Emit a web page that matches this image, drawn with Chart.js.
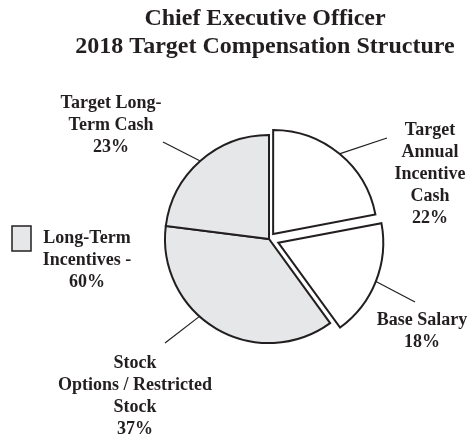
<!DOCTYPE html>
<html>
<head>
<meta charset="utf-8">
<script src="https://cdn.jsdelivr.net/npm/chart.js@4.4.1/dist/chart.umd.min.js"></script>
<style>
html, body { margin: 0; padding: 0; background: #fff; }
#wrap { width: 474px; height: 444px; }
</style>
</head>
<body>
<div id="wrap"><canvas id="myChart"></canvas></div>
<script>
const titleLines = ['Chief Executive Officer', '2018 Target Compensation Structure'];
const categories = [
    ['Target', 'Annual', 'Incentive', 'Cash'],
    ['Base Salary'],
    ['Stock', 'Options / Restricted', 'Stock'],
    ['Target Long-', 'Term Cash']
];
const values = [22, 18, 37, 23];
const groupLabel = ['Long-Term', 'Incentives -'];
const groupMembers = [2, 3];

const ink = '#231f20';
const gray = '#e6e7e8';
const serif = '"Liberation Serif", "Times New Roman", serif';

// x = text centre, y = first baseline, end = leader line end, at = where along the arc the line starts
const labelPos = [
    {x: 430, y: 135, end: [387, 138], at: 0.5},
    {x: 422, y: 325, end: [415, 302], at: 0.5},
    {x: 135, y: 368, end: [165, 343], at: 0.585},
    {x: 111, y: 108, end: [163, 142], at: 0.5}
];

const labelsPlugin = {
    id: 'sliceLabels',
    afterDraw(chart) {
        const ctx = chart.ctx;
        const arcs = chart.getDatasetMeta(0).data;
        ctx.save();
        ctx.fillStyle = ink;
        ctx.strokeStyle = ink;
        ctx.textAlign = 'center';
        ctx.textBaseline = 'alphabetic';

        // タイトル
        ctx.font = 'bold 24px ' + serif;
        titleLines.forEach((t, i) => ctx.fillText(t, 265, 25 + i * 28));

        // 引き出し線とラベル
        ctx.font = 'bold 18px ' + serif;
        ctx.lineWidth = 1.2;
        arcs.forEach((arc, i) => {
            const p = labelPos[i];
            const off = (arc.options.offset || 0) / 4;
            const half = (arc.startAngle + arc.endAngle) / 2;
            const a = arc.startAngle + (arc.endAngle - arc.startAngle) * p.at;
            const sx = arc.x + Math.cos(half) * off + Math.cos(a) * arc.outerRadius;
            const sy = arc.y + Math.sin(half) * off + Math.sin(a) * arc.outerRadius;
            ctx.beginPath();
            ctx.moveTo(sx, sy);
            ctx.lineTo(p.end[0], p.end[1]);
            ctx.stroke();
            const lines = categories[i].concat([values[i] + '%']);
            lines.forEach((t, j) => ctx.fillText(t, p.x, p.y + j * 22));
        });

        // 長期インセンティブの凡例
        ctx.fillStyle = gray;
        ctx.fillRect(12, 226, 19, 25);
        ctx.lineWidth = 1.5;
        ctx.strokeRect(12, 226, 19, 25);
        ctx.fillStyle = ink;
        const total = groupMembers.reduce((s, k) => s + values[k], 0);
        groupLabel.concat([total + '%']).forEach((t, j) => ctx.fillText(t, 87, 243 + j * 22));
        ctx.restore();
    }
};

const ctx = document.getElementById('myChart').getContext('2d');
new Chart(ctx, {
    type: 'pie',
    data: {
        labels: categories.map(c => c.join(' ')),
        datasets: [{
            data: values,
            backgroundColor: ['#ffffff', '#ffffff', gray, gray],
            borderColor: ink,
            borderWidth: 2,
            borderJoinStyle: 'miter',
            offset: [26, 40, 0, 0],
            radius: 104
        }]
    },
    options: {
        responsive: true,
        maintainAspectRatio: false,
        animation: false,
        layout: {
            padding: {left: 130, right: 66, top: 120, bottom: 86}
        },
        plugins: {
            legend: {display: false},
            title: {display: false},
            tooltip: {enabled: false}
        }
    },
    plugins: [labelsPlugin]
});
</script>
</body>
</html>
